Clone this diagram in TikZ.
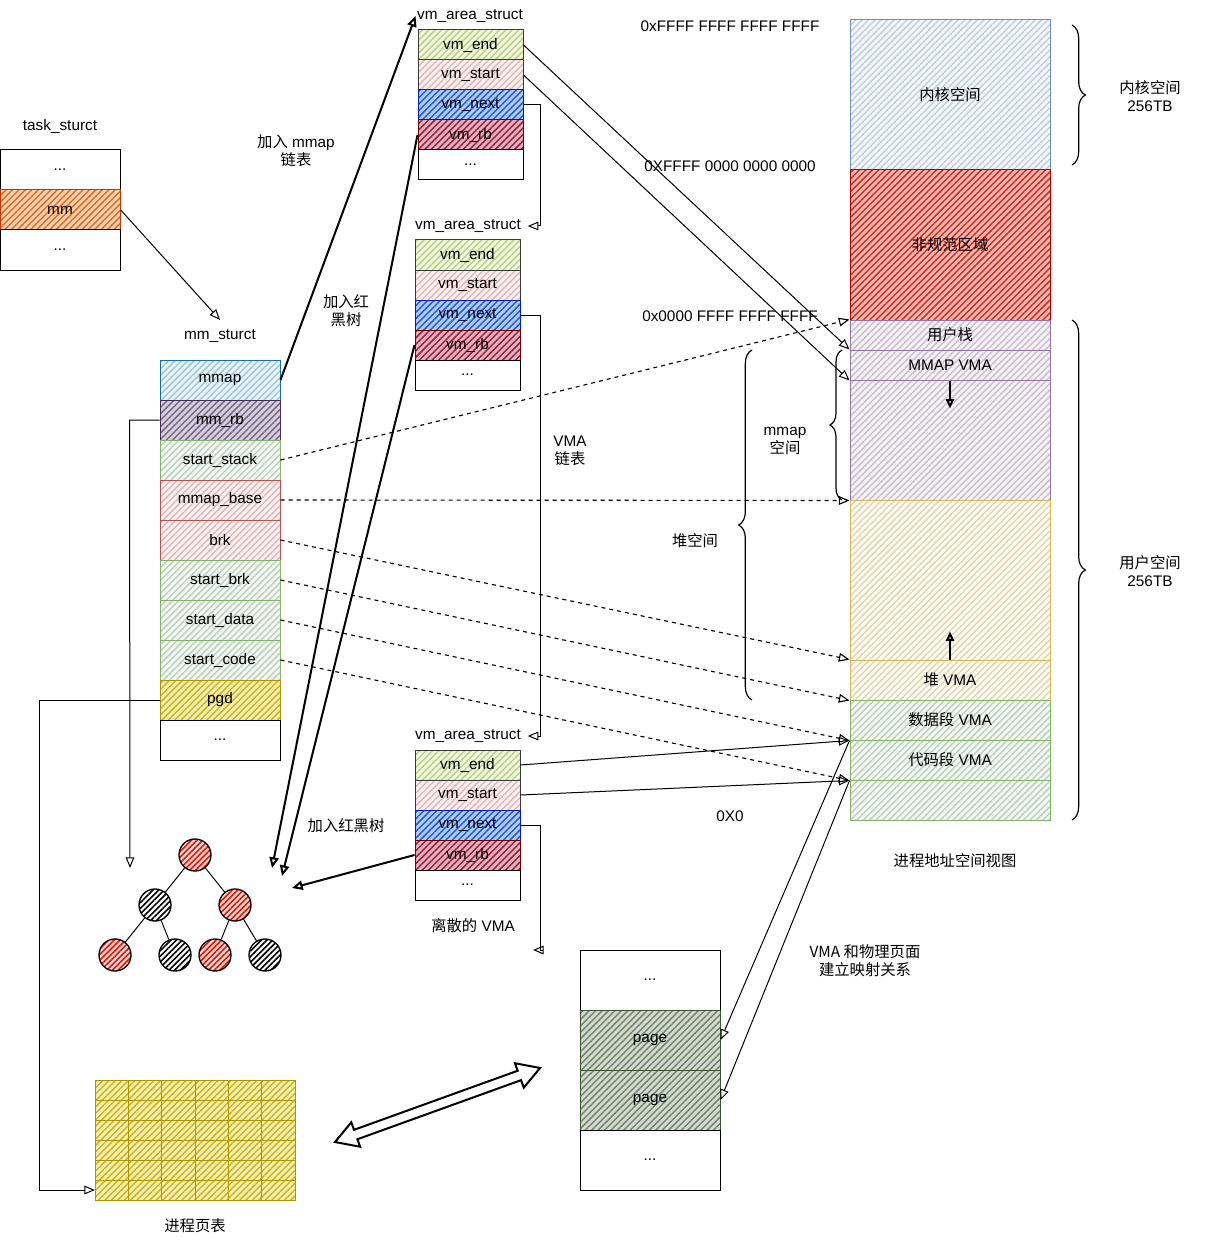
\documentclass[tikz,border=0pt]{standalone}
\usepackage{fontspec}
\setmainfont{Liberation Sans}
\newfontfamily\cjk{Noto Sans CJK SC}
\usetikzlibrary{arrows.meta,patterns.meta,decorations.pathreplacing,calc}
\definecolor{gF}{HTML}{D5E8D4}\definecolor{gS}{HTML}{82B366}
\definecolor{lgF}{HTML}{CDEB8B}\definecolor{dS}{HTML}{36393D}
\definecolor{pF}{HTML}{FFCCCC}
\definecolor{bF}{HTML}{0050EF}\definecolor{bS}{HTML}{001DBC}
\definecolor{rbF}{HTML}{A20025}\definecolor{rbS}{HTML}{6F0000}
\definecolor{oF}{HTML}{FA6800}\definecolor{oS}{HTML}{C73500}
\definecolor{cF}{HTML}{B1DDF0}\definecolor{cS}{HTML}{10739E}
\definecolor{vF}{HTML}{76608A}\definecolor{vS}{HTML}{432D57}
\definecolor{rF}{HTML}{F8CECC}\definecolor{rS}{HTML}{B85450}
\definecolor{yF}{HTML}{E3C800}\definecolor{yS}{HTML}{B09500}
\definecolor{kF}{HTML}{DAE8FC}\definecolor{kS}{HTML}{6C8EBF}
\definecolor{nF}{HTML}{E51400}\definecolor{nS}{HTML}{B20000}
\definecolor{uF}{HTML}{E1D5E7}\definecolor{uS}{HTML}{9673A6}
\definecolor{hF}{HTML}{FFF2CC}\definecolor{hS}{HTML}{D6B656}
\definecolor{pgF}{HTML}{6D8764}\definecolor{pgS}{HTML}{3A5431}
\newcommand\dfs{\fontsize{11.5}{13.5}\selectfont}
\tikzset{
  sz/.style 2 args={minimum width=#1*0.75pt, minimum height=#2*0.75pt},
  cell/.style 2 args={draw=#2, line width=0.75pt, preaction={fill=#1!30},
    pattern={Lines[angle=45,distance=3.4pt,line width=1.1pt]},
    pattern color=#1!75!gray, inner sep=0pt, font=\dfs},
  plain/.style={draw=black, fill=white, line width=0.75pt, inner sep=0pt, font=\dfs},
  lbl/.style={font=\dfs, inner sep=1pt, align=center},
  arr/.style={-{Triangle[open,length=8pt,width=6.5pt]}, line width=0.75pt},
  dsh/.style={arr, dashed, line width=0.85pt},
  tk/.style={-{Triangle[open,length=8pt,width=7pt]}, line width=1.5pt},
  tnode/.style={circle, minimum size=24pt, draw=black, line width=1pt, inner sep=0pt},
  rednode/.style={tnode, preaction={fill=nF!15}, pattern={Lines[angle=45,distance=3pt,line width=1.2pt]}, pattern color=nF},
  blknode/.style={tnode, preaction={fill=white}, pattern={Lines[angle=45,distance=3pt,line width=1.2pt]}, pattern color=black},
  brc/.style={decorate, decoration={brace, amplitude=#1}, line width=0.9pt},
}
\begin{document}
\begin{tikzpicture}[x=0.75pt,y=-0.75pt]
\useasboundingbox[fill=white] (0,0) rectangle (1211,1241);

% task_struct
\node[lbl] (tasklbl) at (60,126) {task\_sturct};
\node[plain, sz={120}{40}] (ta) at (60,170) {...};
\node[cell={oF}{oS}, sz={120}{40}] (mm) at (60,210) {mm};
\node[plain, sz={120}{40}] (tb) at (60,250) {...};

% mm_struct
\node[lbl] (mmlbl) at (220,336) {mm\_sturct};
\node[cell={cF}{cS}, sz={120}{40}] (mmap) at (220,380) {mmap};
\node[cell={vF}{vS}, sz={120}{40}] (mmrb) at (220,420) {mm\_rb};
\node[cell={gF}{gS}, sz={120}{40}] (sstack) at (220,460) {start\_stack};
\node[cell={rF}{rS}, sz={120}{40}] (mbase) at (220,500) {mmap\_base};
\node[cell={rF}{rS}, sz={120}{40}] (brk) at (220,540) {brk};
\node[cell={gF}{gS}, sz={120}{40}] (sbrk) at (220,580) {start\_brk};
\node[cell={gF}{gS}, sz={120}{40}] (sdata) at (220,620) {start\_data};
\node[cell={gF}{gS}, sz={120}{40}] (scode) at (220,660) {start\_code};
\node[cell={yF}{yS}, sz={120}{40}] (pgd) at (220,700) {pgd};
\node[plain, sz={120}{40}] (mmdots) at (220,740) {...};

% vm_area_struct 1
\node[lbl] (l1) at (470,16) {vm\_area\_struct};
\node[cell={lgF}{dS}, sz={105}{30}] (e1) at (470.5,45) {vm\_end};
\node[cell={pF}{dS}, sz={105}{30}] (s1) at (470.5,75) {vm\_start};
\node[cell={bF}{bS}, sz={105}{30}] (n1) at (470.5,105) {vm\_next};
\node[cell={rbF}{rbS}, sz={105}{30}] (r1) at (470.5,135) {vm\_rb};
\node[plain, sz={105}{30}] (d1) at (470.5,165) {...};

% vm_area_struct 2
\node[lbl] (l2) at (468,226) {vm\_area\_struct};
\node[cell={lgF}{dS}, sz={105}{30}] (e2) at (467.5,255) {vm\_end};
\node[cell={pF}{dS}, sz={105}{30}] (s2) at (467.5,285) {vm\_start};
\node[cell={bF}{bS}, sz={105}{30}] (n2) at (467.5,315) {vm\_next};
\node[cell={rbF}{rbS}, sz={105}{30}] (r2) at (467.5,345) {vm\_rb};
\node[plain, sz={105}{30}] (d2) at (467.5,375) {...};

% vm_area_struct 3
\node[lbl] (l3) at (468,736) {vm\_area\_struct};
\node[cell={lgF}{dS}, sz={105}{30}] (e3) at (467.5,765) {vm\_end};
\node[cell={pF}{dS}, sz={105}{30}] (s3) at (467.5,795) {vm\_start};
\node[cell={bF}{bS}, sz={105}{30}] (n3) at (467.5,825) {vm\_next};
\node[cell={rbF}{rbS}, sz={105}{30}] (r3) at (467.5,855) {vm\_rb};
\node[plain, sz={105}{30}] (d3) at (467.5,885) {...};
\node[lbl] (discrete) at (473,926) {{\cjk 离散的} VMA};
\coordinate (vmend3) at (533,950);

% address space column
\node[cell={kF}{kS}, sz={200}{150}] (kern) at (950,95) {\cjk 内核空间};
\node[cell={nF}{nS}, sz={200}{150}] (noncan) at (950,245) {\cjk 非规范区域};
\node[cell={uF}{uS}, sz={200}{30}] (ustack) at (950,335) {\cjk 用户栈};
\node[cell={uF}{uS}, sz={200}{30}] (mmapvma) at (950,365) {MMAP VMA};
\node[cell={uF}{uS}, sz={200}{120}] (mmapreg) at (950,440) {};
\node[cell={hF}{hS}, sz={200}{160}] (heapreg) at (950,580) {};
\node[cell={hF}{hS}, sz={200}{40}] (heapvma) at (950,680) {{\cjk 堆} VMA};
\node[cell={gF}{gS}, sz={200}{40}] (datavma) at (950,720) {{\cjk 数据段} VMA};
\node[cell={gF}{gS}, sz={200}{40}] (codevma) at (950,760) {{\cjk 代码段} VMA};
\node[cell={gF}{gS}, sz={200}{40}] (botreg) at (950,800) {};
\draw[-{Triangle[open,length=7pt,width=6pt]}, line width=1.5pt] (mmapvma.south) -- ++(0,28);
\draw[-{Triangle[open,length=7pt,width=6pt]}, line width=1.5pt] (heapvma.north) -- ++(0,-28);

\node[lbl] (a1) at (730,26) {0xFFFF FFFF FFFF FFFF};
\node[lbl] (a2) at (730,166) {0XFFFF 0000 0000 0000};
\node[lbl] (a3) at (730,316) {0x0000 FFFF FFFF FFFF};
\node[lbl] (a4) at (730,816) {0X0};
\node[lbl] (viewlbl) at (955,861) {\cjk 进程地址空间视图};

% braces
\draw[brc=10pt] (1072,25) -- (1072,165);
\node[lbl] (klbl) at (1150,96) {{\cjk 内核空间}\\256TB};
\draw[brc=10pt] (1072,320) -- (1072,820);
\node[lbl] (ulbl) at (1150,571) {{\cjk 用户空间}\\256TB};
\draw[brc=9pt] (842,500) -- (842,350);
\node[lbl] (mlbl) at (785,441) {mmap\\{\cjk 空间}};
\draw[brc=10pt] (752,700) -- (752,350);
\node[lbl] (hlbl) at (695,541) {\cjk 堆空间};

% pages
\node[plain, sz={140}{60}] (pg0) at (650,980) {...};
\node[cell={pgF}{pgS}, sz={140}{60}] (pg1) at (650,1040) {page};
\node[cell={pgF}{pgS}, sz={140}{60}] (pg2) at (650,1100) {page};
\node[plain, sz={140}{60}] (pg3) at (650,1160) {...};
\node[lbl] (maplbl) at (865,961) {{\cjk VMA 和物理页面}\\{\cjk 建立映射关系}};

% page table grid
\node[cell={yF}{yS}, sz={200}{120}] (grid) at (195,1140) {};
\foreach \i in {1,...,5} {
  \draw[draw=yS, line width=0.75pt] ({95+\i*33.333},1080) -- ({95+\i*33.333},1200);
  \draw[draw=yS, line width=0.75pt] (95,{1080+\i*20}) -- (295,{1080+\i*20});
}
\node[lbl] (gridlbl) at (195,1226) {\cjk 进程页表};
\coordinate (gridin) at (95,1190);

% red-black tree
\node[rednode] (t1) at (195,855) {};
\node[blknode] (t2) at (155,905) {};
\node[rednode] (t3) at (235,905) {};
\node[rednode] (t4) at (115,955) {};
\node[blknode] (t5) at (175,955) {};
\node[rednode] (t6) at (215,955) {};
\node[blknode] (t7) at (265,955) {};
\draw[line width=0.75pt] (t1) -- (t2) (t1) -- (t3) (t2) -- (t4) (t2) -- (t5) (t3) -- (t6) (t3) -- (t7);
\coordinate (treein) at (130,868);
\coordinate (treeA) at (272,868);
\coordinate (treeB) at (282,876);
\coordinate (treeC) at (292,888);

% labels
\node[lbl] (lk1) at (296,151) {{\cjk 加入} mmap\\{\cjk 链表}};
\node[lbl] (lk2) at (346,311) {{\cjk 加入红}\\{\cjk 黑树}};
\node[lbl] (lk3) at (346,826) {\cjk 加入红黑树};
\node[lbl] (lk4) at (570,451) {VMA\\{\cjk 链表}};

% connectors
\draw[arr] (mm.east) -- ([yshift=6pt]mmlbl.north);
\draw[tk] (mmap.east) -- (l1.west);
\draw[tk] (r1.west) -- (treeA);
\draw[tk] (r2.west) -- (treeB);
\draw[tk] (r3.west) -- (treeC);
\draw[arr] (mmrb.west) -- ++(-30,0) -- (treein);
\draw[arr] (pgd.west) -- ++(-120,0) |- (gridin);

\draw[arr] (n1.east) -- ++(17,0) |- ([xshift=4pt]l2.east);
\draw[arr] (n2.east) -- ++(20,0) |- ([xshift=4pt]l3.east);
\draw[arr] (n3.east) -- ++(20,0) |- (vmend3);

\draw[arr] (e1.east) -- (mmapvma.north west);
\draw[arr] (s1.east) -- (mmapvma.south west);
\draw[arr] (e3.east) -- (datavma.south west);
\draw[arr] (s3.east) -- (codevma.south west);

\draw[dsh] (sstack.east) -- (ustack.north west);
\draw[dsh] (mbase.east) -- (mmapreg.south west);
\draw[dsh] (brk.east) -- (heapvma.north west);
\draw[dsh] (sbrk.east) -- (heapvma.south west);
\draw[dsh] (sdata.east) -- (datavma.south west);
\draw[dsh] (scode.east) -- (codevma.south west);

\draw[arr] (datavma.south west) -- (pg1.east);
\draw[arr] (codevma.south west) -- (pg2.east);

% double arrow
\begin{scope}[shift={(335,1142)}, rotate=19.85]
\draw[line width=1.5pt, fill=white, line join=miter] (0,0) -- (22,13) -- (22,5) -- (196,5) -- (196,13) -- (218,0) -- (196,-13) -- (196,-5) -- (22,-5) -- (22,-13) -- cycle;
\end{scope}
\end{tikzpicture}
\end{document}
